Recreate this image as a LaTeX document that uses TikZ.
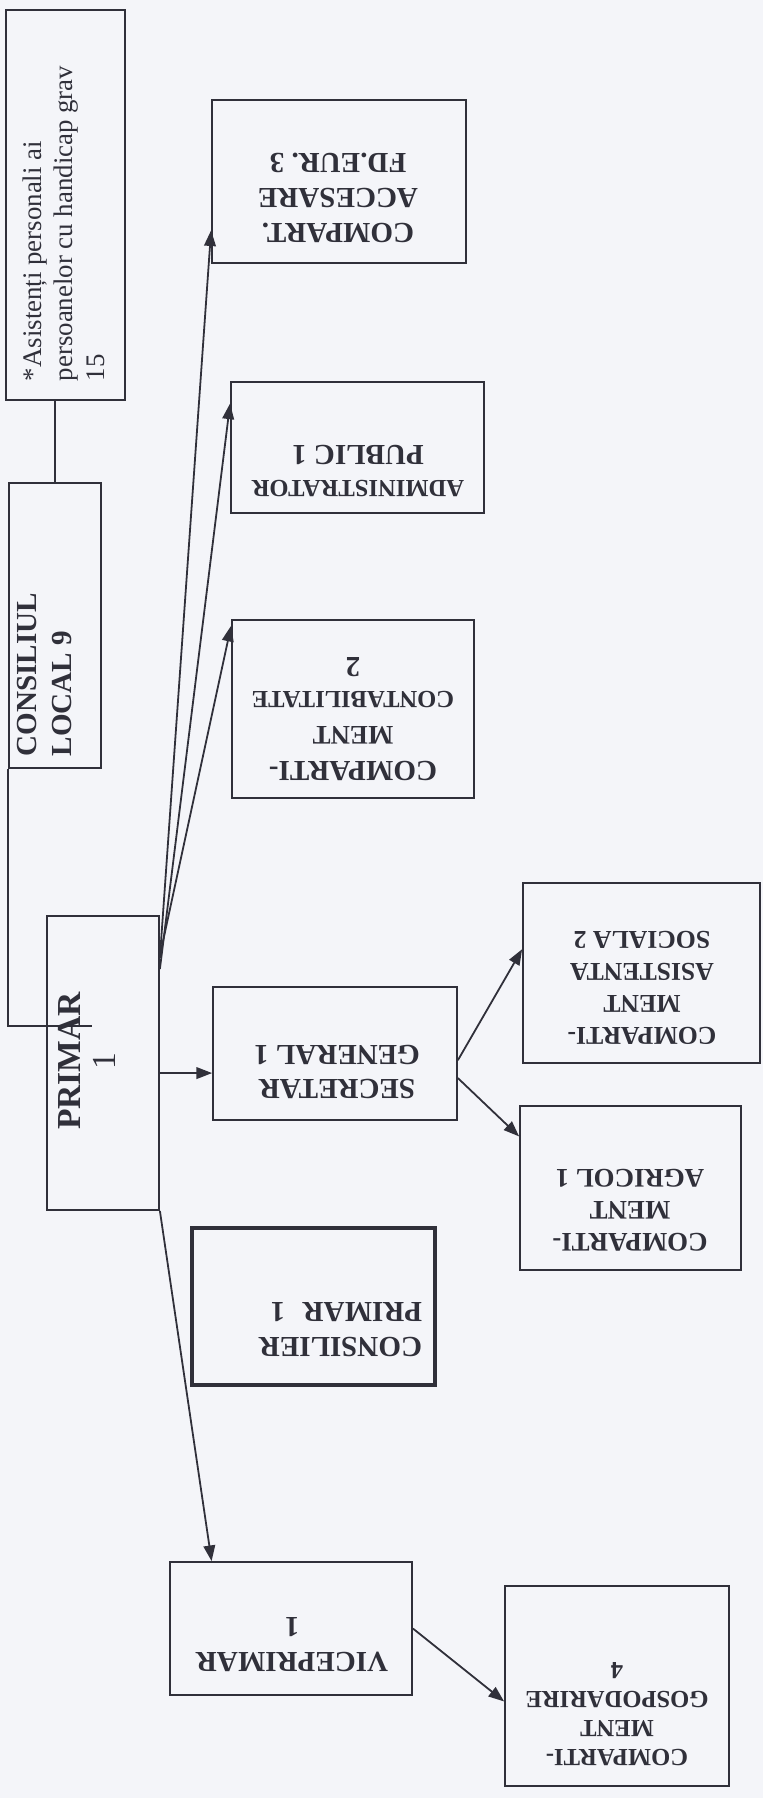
\documentclass[tikz,border=0pt]{standalone}
\usepackage{fontspec}
\setmainfont{Liberation Serif}
\usetikzlibrary{arrows.meta,fit}
\definecolor{ink}{HTML}{30303A}
\definecolor{paper}{HTML}{F4F5F9}

\begin{document}
\begin{tikzpicture}[x=0.447pt,y=-0.447pt,color=ink,line width=0.8pt,
    >={Triangle[length=7pt,width=5.2pt]},
    box/.style={draw=ink,rectangle,inner sep=0pt},
    lbl/.style={text=ink,inner sep=0pt,align=center,font=\bfseries\fontsize{13}{15.6}\selectfont}]
    \fill[paper] (0,0) rectangle (763,1798);
    % boxes
    \node[box,fit={(6,10) (125,400)}] (asist) {};
    \node[box,fit={(9,483) (101,768)}] (consiliu) {};
    \node[box,fit={(47,916) (159,1210)}] (primar) {};
    \node[box,fit={(212,100) (466,263)}] (accesare) {};
    \node[box,fit={(231,382) (484,513)}] (admin) {};
    \node[box,fit={(232,620) (474,798)}] (contab) {};
    \node[box,fit={(213,987) (457,1120)}] (secretar) {};
    \node[box,fit={(523,883) (760,1063)}] (asistenta) {};
    \node[box,fit={(520,1106) (741,1270)}] (agricol) {};
    \node[box,line width=1.5pt,fit={(192,1228) (435,1385)}] (consilier) {};
    \node[box,fit={(170,1562) (412,1695)}] (vice) {};
    \node[box,fit={(505,1586) (729,1786)}] (gosp) {};
    % texts
    \node[lbl,rotate=90,anchor=north west,align=left,font=\fontsize{12}{14}\selectfont] (asisttxt) at (22,382) {*Asistenți personali ai\\persoanelor cu handicap grav\\15};
    \node[lbl,rotate=90,anchor=north west,align=left] (consiliutxt) at (16,757) {CONSILIUL\\LOCAL 9};
    \node[lbl,rotate=90,font=\bfseries\fontsize{15}{16}\selectfont] (primartxt) at (87,1061) {PRIMAR\\{\mdseries 1}};
    \node[lbl,rotate=180] (accesaretxt) at (338,198) {COMPART.\\ACCESARE\\FD.EUR. 3};
    \node[lbl,rotate=180] (admintxt) at (358,471) {{\fontsize{11}{12.5}\selectfont ADMINISTRATOR}\\PUBLIC 1};
    \node[lbl,rotate=180] (contabtxt) at (353,719) {COMPARTI-\\{\fontsize{12}{14}\selectfont MENT}\\{\fontsize{11}{12.5}\selectfont CONTABILITATE}\\2};
    \node[lbl,rotate=180] (secretartxt) at (337,1072) {SECRETAR\\GENERAL 1};
    \node[lbl,rotate=180,font=\bfseries\fontsize{11.5}{14.3}\selectfont] (asistentatxt) at (642,988) {COMPARTI-\\MENT\\ASISTENTA\\SOCIALA 2};
    \node[lbl,rotate=180,font=\bfseries\fontsize{12}{14.3}\selectfont] (agricoltxt) at (630,1210) {COMPARTI-\\MENT\\AGRICOL 1};
    \node[lbl,rotate=180,anchor=west,align=left] (consiliertxt) at (423,1330) {CONSILIER\\PRIMAR\hspace{0.6em}1};
    \node[lbl,rotate=180] (vicetxt) at (292,1645) {VICEPRIMAR\\1};
    \node[lbl,rotate=180,font=\bfseries\fontsize{11}{13}\selectfont] (gosptxt) at (617,1714) {COMPARTI-\\MENT\\GOSPODARIRE\\4};
    % connectors
    \draw (consiliu.north) -- (consiliu.north |- asist.south);
    \coordinate (leg) at (92,1026);
    \draw (consiliu.south west) |- (leg);
    \path[->]
        ([yshift=47pt]primar.east) edge ([yshift=15pt]accesare.south west)
        ([yshift=42pt]primar.east) edge ([yshift=-10pt]admin.north west)
        ([yshift=48pt]primar.east) edge ([yshift=-3pt]contab.north west)
        ([yshift=-4.5pt]primar.east) edge ([yshift=-4.5pt]primar.east -| secretar.west)
        (primar.south east) edge ([xshift=19pt]vice.north west)
        ([yshift=-3pt]secretar.east) edge ([yshift=-30pt]asistenta.north west)
        ([yshift=-11pt]secretar.east) edge ([yshift=-14pt]agricol.north west)
        (vice.east) edge ([yshift=-52pt]gosp.north west);
\end{tikzpicture}
\end{document}
